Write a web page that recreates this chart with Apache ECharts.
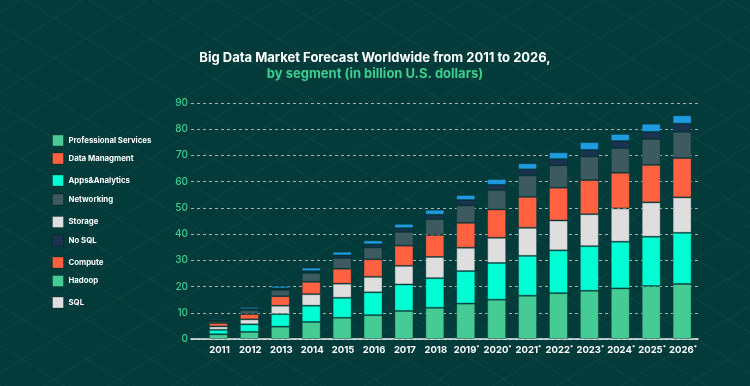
<!DOCTYPE html>
<html>
<head>
<meta charset="utf-8">
<script src="https://cdn.jsdelivr.net/npm/echarts@6/dist/echarts.min.js"></script>
<style>
html,body{margin:0;padding:0;}
body{background:#033b3b;}
#chart{width:750px;height:386px;
background-color:#033b3b;
background-image:
 repeating-linear-gradient(32deg, rgba(255,255,255,0.035) 0px, rgba(255,255,255,0.035) 1px, transparent 1px, transparent 34px),
 repeating-linear-gradient(-32deg, rgba(255,255,255,0.035) 0px, rgba(255,255,255,0.035) 1px, transparent 1px, transparent 34px);
}
</style>
</head>
<body>
<div id="chart"></div>
<script>
const years = ['2011','2012','2013','2014','2015','2016','2017','2018','2019*','2020*','2021*','2022*','2023*','2024*','2025*','2026*'];
const yTicks = [0,10,20,30,40,50,60,70,80,90];
const professionalServices = [1.8,2.7,4.7,6.5,8.1,9.1,10.7,11.9,13.5,15.0,16.5,17.5,18.4,19.3,20.2,21.0];
const appsAnalytics        = [1.7,2.9,4.8,6.2,7.6,8.7,10.1,11.3,12.4,14.0,15.2,16.3,17.0,17.8,18.8,19.5];
const storage              = [1.3,1.9,3.2,4.4,5.4,5.9,7.1,8.1,8.9,9.6,10.7,11.4,12.2,12.7,13.1,13.5];
const dataManagment        = [1.3,2.0,3.6,4.7,5.7,6.7,7.7,8.4,9.5,10.8,11.8,12.5,13.0,13.6,14.3,15.0];
const networking           = [0.8,1.5,2.4,3.4,4.1,4.5,5.2,6.0,6.6,7.4,8.2,8.5,9.0,9.4,9.9,10.0];
const noSql                = [0.2,0.4,0.6,0.7,1.0,1.2,1.5,1.7,2.1,2.0,2.3,2.4,2.5,2.7,2.7,3.1];
const topSegment           = [0.5,0.8,0.9,1.3,1.4,1.5,1.6,1.9,1.9,2.2,2.3,2.6,3.0,2.7,3.1,3.2];
const legendNames = ['Professional Services','Data Managment','Apps&Analytics','Networking','Storage','No SQL','Compute','Hadoop','SQL'];
const legendCenters = [140,158,180,199,221.5,240,262,280.5,302];

const C = {green:'#45cb93', cyan:'#00fdd3', grey:'#dedede', orange:'#ff6141', slate:'#3c5a60', navy:'#1c3350', blue:'#1f9be0'};
const FONT = 'Inter, "Open Sans", sans-serif';

const chart = echarts.init(document.getElementById('chart'), null, {renderer:'canvas'});

const border = {borderColor:'rgba(3,45,45,0.35)', borderWidth:1};
function barSeries(name, data, color){
  return {name:name, type:'bar', stack:'total', xAxisIndex:1, yAxisIndex:1, barWidth:19, data:data,
    itemStyle:Object.assign({color:color}, border), emphasis:{disabled:true}};
}
function emptySeries(name, color){
  return {name:name, type:'bar', stack:'empty', xAxisIndex:1, yAxisIndex:1, data:[], itemStyle:{color:color}};
}

const legends = legendNames.map((n,i)=>({
  data:[n], orient:'vertical', left:52, top:legendCenters[i]-5.5, padding:0,
  itemWidth:11, itemHeight:11, icon:'rect', selectedMode:false,
  itemStyle:{borderColor:'rgba(0,0,0,0.25)', borderWidth:1},
  textStyle:{color:'#ffffff', fontSize:7.8, fontWeight:'bold', fontFamily:FONT}
}));

chart.setOption({
  animation:false,
  title:{
    text:'Big Data Market Forecast Worldwide from 2011 to 2026,',
    subtext:'by segment (in billion U.S. dollars)',
    left:'center', top:45, itemGap:0,
    textStyle:{color:'#ffffff', fontSize:13, fontWeight:'bold', fontFamily:FONT, lineHeight:16},
    subtextStyle:{color:'#3ecf8e', fontSize:13, fontWeight:'bold', fontFamily:FONT, lineHeight:16}
  },
  legend:legends,
  grid:[
    {left:191, right:52, top:103, bottom:47},
    {left:204, right:51.5, top:103, bottom:47}
  ],
  xAxis:[
    {type:'value', gridIndex:0, min:0, max:1, axisLabel:{show:false}, splitLine:{show:false}, axisTick:{show:false},
     axisLine:{show:true, onZero:false, lineStyle:{color:'#e8f0ee', width:1.5}}},
    {type:'category', gridIndex:1, data:years, axisLine:{show:false}, axisTick:{show:false},
     axisLabel:{interval:0, margin:6, color:'#ffffff', fontSize:9.5, fontWeight:'bold', fontFamily:FONT,
       formatter:function(v){ if(v.indexOf('*')>=0){ return '{a|'+v.replace('*','')+'}{s|*}'; } return '{a|'+v+'}'; },
       rich:{a:{color:'#ffffff', fontSize:9.5, fontWeight:'bold', fontFamily:FONT}, s:{color:'#ffffff', fontSize:6, fontWeight:'bold', padding:[0,0,4,0]}}}}
  ],
  yAxis:[
    {type:'value', gridIndex:0, min:0, max:90, interval:10, axisLine:{show:false}, axisTick:{show:false},
     axisLabel:{margin:3, color:'#3ecf8e', fontSize:10, fontWeight:500, fontFamily:FONT},
     splitLine:{show:true, lineStyle:{color:'rgba(215,222,222,0.75)', type:[3,3], width:1}}},
    {type:'value', gridIndex:1, min:0, max:90, interval:10, show:false, splitLine:{show:false}}
  ],
  series:[
    barSeries('Professional Services', professionalServices, C.green),
    barSeries('Apps&Analytics', appsAnalytics, C.cyan),
    barSeries('Storage', storage, C.grey),
    barSeries('Data Managment', dataManagment, C.orange),
    barSeries('Networking', networking, C.slate),
    barSeries('No SQL', noSql, C.navy),
    barSeries('Other', topSegment, C.blue),
    emptySeries('Compute', C.orange),
    emptySeries('Hadoop', C.green),
    emptySeries('SQL', C.grey)
  ]
});
</script>
</body>
</html>
